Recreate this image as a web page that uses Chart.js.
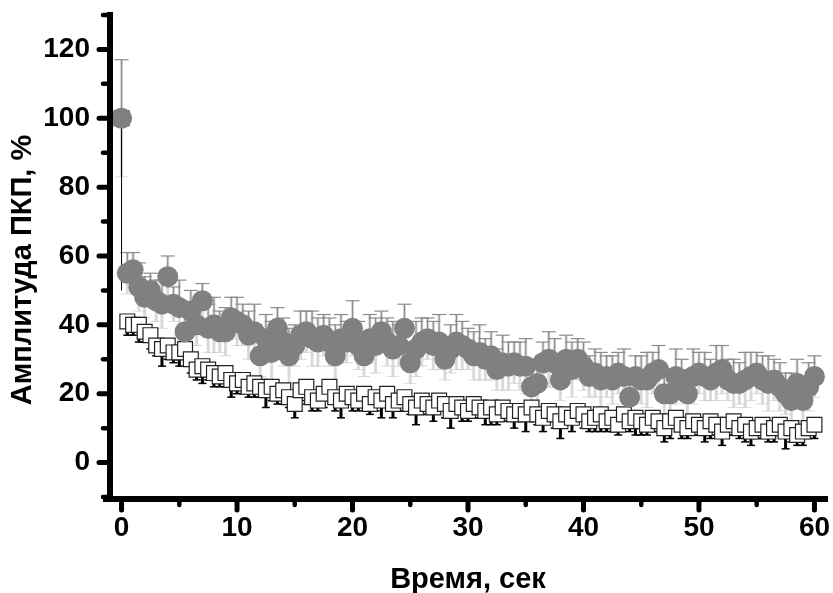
<!DOCTYPE html>
<html><head><meta charset="utf-8">
<script src="https://cdn.jsdelivr.net/npm/chart.js@4/dist/chart.umd.min.js"></script>
<style>html,body{margin:0;padding:0;background:#fff}#wrap{width:833px;height:593px;position:relative}</style>
</head><body><div id="wrap"><canvas id="c" width="833" height="593"></canvas></div>
<script>
const times = [0,0.5,1,1.5,2,2.5,3,3.5,4,4.5,5,5.5,6,6.5,7,7.5,8,8.5,9,9.5,10,10.5,11,11.5,12,12.5,13,13.5,14,14.5,15,15.5,16,16.5,17,17.5,18,18.5,19,19.5,20,20.5,21,21.5,22,22.5,23,23.5,24,24.5,25,25.5,26,26.5,27,27.5,28,28.5,29,29.5,30,30.5,31,31.5,32,32.5,33,33.5,34,34.5,35,35.5,36,36.5,37,37.5,38,38.5,39,39.5,40,40.5,41,41.5,42,42.5,43,43.5,44,44.5,45,45.5,46,46.5,47,47.5,48,48.5,49,49.5,50,50.5,51,51.5,52,52.5,53,53.5,54,54.5,55,55.5,56,56.5,57,57.5,58,58.5,59,59.5,60];
const circleValues = [100,55,56,51,48,50,47,46,54,46,45,38,44,40,47,39,40,38,38,42,41,40,37,38,31,36,32,39,35,31,34,37,38,36,35,37,35,31,36,35,39,34,31,36,34,38,35,33,34,39,29,33,35,36,34,35,30,33,35,34,33,31,32,30,31,27,29,28,29,28,28,22,23,29,30,29,24,30,27,30,28,25,26,24,25,24,26,25,19,25,24,24,26,27,20,20,25,24,20,25,26,25,24,26,27,24,23,23,24,25,26,24,23,24,22,20,18,23,18,22,25];
const circleErrors = [17,6,5,7,6,5,6,7,6,5,8,7,6,6,5,7,8,6,7,6,7,6,7,8,6,7,9,6,7,8,6,7,6,8,7,6,7,9,7,6,8,7,6,7,8,6,7,8,6,7,6,8,7,6,7,8,6,7,8,7,6,7,8,6,7,6,8,7,6,7,8,6,7,6,8,7,6,7,8,6,7,6,7,8,6,7,6,8,7,6,7,8,6,7,6,7,8,6,7,8,6,7,6,8,7,6,7,6,8,7,6,7,8,6,7,6,8,7,6,7,6];
const squareValues = [100,41,40,40,38,37,34,33,34,32,32,33,30,27,28,27,26,25,26,24,23,24,22,23,22,21,22,20,21,19,17,21,22,19,18,20,22,19,18,20,19,18,20,17,19,18,20,17,18,19,17,16,18,17,16,18,17,15,17,16,15,17,16,15,16,14,16,15,14,15,14,16,14,13,15,14,12,14,13,15,14,12,13,14,12,13,11,14,12,13,12,11,13,12,10,12,13,11,10,12,11,10,12,11,9,11,12,10,11,9,10,11,9,10,11,9,10,8,9,10,11];
const squareErrors = [50,4,3,5,3,4,3,5,4,3,4,3,4,3,5,3,4,3,4,5,3,4,3,4,3,5,4,3,4,3,4,3,5,4,3,4,3,4,5,3,4,3,4,3,4,5,3,4,3,4,3,5,4,3,4,3,4,5,3,4,3,4,3,4,5,3,4,3,4,3,5,4,3,4,3,4,5,3,4,3,4,3,4,5,3,4,3,4,3,5,4,3,4,3,4,5,3,4,3,4,3,4,5,3,4,3,4,3,5,4,3,4,3,4,3,5,4,3,4,3,4];
const xTickValues = [0,10,20,30,40,50,60];
const yTickValues = [0,20,40,60,80,100,120];
const xMinorTicks = [5,15,25,35,45,55];
const yMinorTicks = [-10,10,30,50,70,90,110,130];
const xTitle = 'Время, сек';
const yTitle = 'Амплитуда ПКП, %';

const FONT = '"Liberation Sans", Arial, sans-serif';

const errorBars = {
  id: 'errorBars',
  beforeDatasetsDraw(chart) {
    const xs = chart.scales.x, ys = chart.scales.y, ctx = chart.ctx;
    ctx.save();
    ctx.lineCap = 'butt';
    for (let i = 0; i < times.length; i++) {
      const x = xs.getPixelForValue(times[i]);
      const yt = ys.getPixelForValue(circleValues[i] + circleErrors[i]);
      const yb = ys.getPixelForValue(circleValues[i] - circleErrors[i]);
      ctx.strokeStyle = 'rgba(205,205,205,0.75)';
      ctx.lineWidth = 3;
      ctx.beginPath(); ctx.moveTo(x, yt); ctx.lineTo(x, yb); ctx.stroke();
      ctx.lineWidth = 1;
      ctx.beginPath(); ctx.moveTo(x - 6, yb); ctx.lineTo(x + 6, yb); ctx.stroke();
    }
    for (let i = 0; i < times.length; i++) {
      const x = xs.getPixelForValue(times[i]);
      const yc = ys.getPixelForValue(circleValues[i]);
      const yt = ys.getPixelForValue(circleValues[i] + circleErrors[i]);
      ctx.strokeStyle = '#8c8c8c';
      ctx.lineWidth = 1.2;
      ctx.beginPath(); ctx.moveTo(x, yc); ctx.lineTo(x, yt); ctx.stroke();
      ctx.beginPath(); ctx.moveTo(x - 7, yt); ctx.lineTo(x + 7, yt); ctx.stroke();
    }
    for (let i = 0; i < times.length; i++) {
      const x = xs.getPixelForValue(times[i]);
      const yc = ys.getPixelForValue(squareValues[i]);
      const yb = ys.getPixelForValue(squareValues[i] - squareErrors[i]);
      ctx.strokeStyle = '#000';
      ctx.lineWidth = i === 0 ? 1 : 3;
      ctx.beginPath(); ctx.moveTo(x, yc); ctx.lineTo(x, yb); ctx.stroke();
      if (i > 0) { ctx.lineWidth = 1.5; ctx.beginPath(); ctx.moveTo(x - 4, yb); ctx.lineTo(x + 4, yb); ctx.stroke(); }
    }
    ctx.restore();
  }
};

const axesDraw = {
  id: 'axesDraw',
  afterDraw(chart) {
    const xs = chart.scales.x, ys = chart.scales.y, ctx = chart.ctx;
    const ca = chart.chartArea;
    const ax = ca.left, ay = ca.bottom + 2;
    ctx.save();
    ctx.strokeStyle = '#000';
    ctx.fillStyle = '#000';
    ctx.lineCap = 'butt';
    ctx.lineWidth = 6;
    ctx.beginPath(); ctx.moveTo(ax, ca.top - 3); ctx.lineTo(ax, ay + 3); ctx.stroke();
    ctx.beginPath(); ctx.moveTo(ax - 7, ay); ctx.lineTo(ca.right + 2, ay); ctx.stroke();
    ctx.lineCap = 'round';
    ctx.lineWidth = 5;
    yTickValues.forEach(v => { const y = ys.getPixelForValue(v); ctx.beginPath(); ctx.moveTo(ax - 3, y); ctx.lineTo(ax - 11, y); ctx.stroke(); });
    ctx.lineWidth = 4.5;
    yMinorTicks.forEach(v => { const y = ys.getPixelForValue(v); ctx.beginPath(); ctx.moveTo(ax - 3, y); ctx.lineTo(ax - 7, y); ctx.stroke(); });
    ctx.lineWidth = 5;
    xTickValues.forEach(v => { const x = xs.getPixelForValue(v); ctx.beginPath(); ctx.moveTo(x, ay + 3); ctx.lineTo(x, ay + 11); ctx.stroke(); });
    ctx.lineWidth = 4.5;
    xMinorTicks.forEach(v => { const x = xs.getPixelForValue(v); ctx.beginPath(); ctx.moveTo(x, ay + 3); ctx.lineTo(x, ay + 6); ctx.stroke(); });
    ctx.font = 'bold 29px ' + FONT;
    ctx.textAlign = 'center';
    ctx.textBaseline = 'alphabetic';
    ctx.fillText(xTitle, (ca.left + ca.right) / 2, 588);
    ctx.translate(31, (ca.top + ca.bottom) / 2 + 14);
    ctx.rotate(-Math.PI / 2);
    ctx.fillText(yTitle, 0, 0);
    ctx.restore();
  }
};

const tickFont = { family: FONT, weight: 'bold', size: 28 };

new Chart(document.getElementById('c'), {
  type: 'scatter',
  data: {
    datasets: [
      {
        label: 'circles',
        data: times.map((t, i) => ({ x: t, y: circleValues[i] })),
        pointStyle: 'circle',
        pointRadius: 10.5,
        pointBackgroundColor: '#808080',
        pointBorderColor: '#808080',
        pointBorderWidth: 0,
        showLine: false
      },
      {
        label: 'squares',
        data: times.map((t, i) => ({ x: t, y: squareValues[i] })),
        pointStyle: 'rect',
        pointRadius: 10.5,
        pointBackgroundColor: '#ffffff',
        pointBorderColor: '#222222',
        pointBorderWidth: 1.2,
        showLine: false
      }
    ]
  },
  options: {
    responsive: false,
    animation: false,
    devicePixelRatio: 1,
    layout: { autoPadding: false, padding: { top: 15, right: 7, left: 0, bottom: 0 } },
    plugins: { legend: { display: false }, tooltip: { enabled: false } },
    scales: {
      x: {
        type: 'linear', min: -1, max: 61,
        afterBuildTicks: s => { s.ticks = xTickValues.map(v => ({ value: v })); },
        afterFit: s => { s.height = 96; s.paddingLeft = 0; s.paddingRight = 0; },
        ticks: { font: tickFont, color: '#000', padding: 6, maxRotation: 0, autoSkip: false },
        grid: { display: false, drawTicks: true, tickLength: 8 },
        border: { display: false }
      },
      y: {
        type: 'linear', min: -10, max: 130,
        afterBuildTicks: s => { s.ticks = yTickValues.map(v => ({ value: v })); },
        afterFit: s => { s.width = 110; s.paddingTop = 0; s.paddingBottom = 0; },
        ticks: { font: tickFont, color: '#000', padding: 10, autoSkip: false },
        grid: { display: false, drawTicks: true, tickLength: 10 },
        border: { display: false }
      }
    }
  },
  plugins: [errorBars, axesDraw]
});
</script>
</body></html>
